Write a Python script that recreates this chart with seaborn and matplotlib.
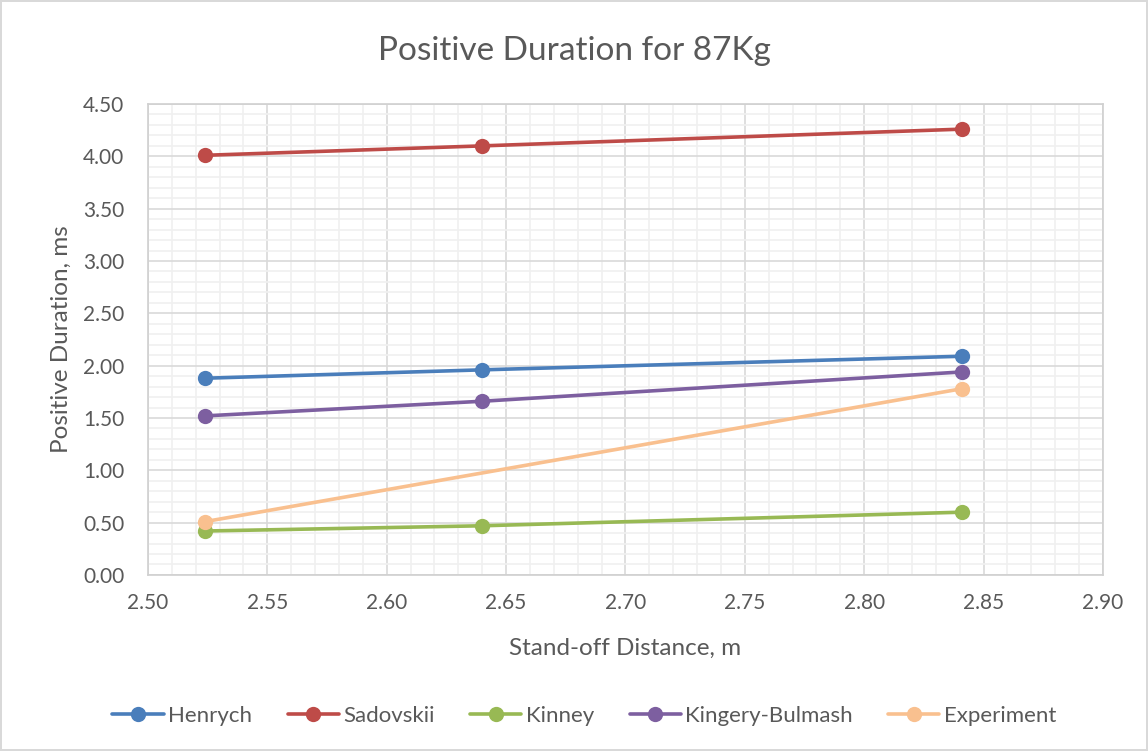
import numpy as np
import pandas as pd
import matplotlib
matplotlib.use("Agg")
import matplotlib.pyplot as plt
from matplotlib.ticker import MultipleLocator, FormatStrFormatter
import seaborn as sns

distance = [2.524, 2.640, 2.841]
henrych = [1.88, 1.96, 2.09]
sadovskii = [4.01, 4.10, 4.26]
kinney = [0.42, 0.47, 0.60]
kingery_bulmash = [1.52, 1.66, 1.94]
experiment = [0.51, np.nan, 1.78]

series_names = ["Henrych", "Sadovskii", "Kinney", "Kingery-Bulmash", "Experiment"]
series_values = [henrych, sadovskii, kinney, kingery_bulmash, experiment]
colors = ["#4a7ebb", "#be4b48", "#98b954", "#7d5fa0", "#f9c08f"]

rows = []
for name, vals in zip(series_names, series_values):
    for x, y in zip(distance, vals):
        rows.append({"x": x, "y": y, "series": name})
df = pd.DataFrame(rows)

sns.set_theme(style="white")
plt.rcParams['font.family'] = ['Lato', 'DejaVu Sans']
text_color = "#595959"

fig = plt.figure(figsize=(11.48, 7.51), dpi=100)
fig.patch.set_edgecolor("#d9d9d9")
fig.patch.set_linewidth(1.5)
ax = fig.add_axes([0.1289, 0.2344, 0.8319, 0.6271])

sns.lineplot(data=df, x="x", y="y", hue="series", hue_order=series_names,
             palette=colors, marker="o", markersize=11, markeredgewidth=0,
             linewidth=2.6, ax=ax, legend=True, sort=False)

ax.set_xlim(2.50, 2.90)
ax.set_ylim(0, 4.5)
ax.xaxis.set_major_locator(MultipleLocator(0.05))
ax.xaxis.set_minor_locator(MultipleLocator(0.01))
ax.yaxis.set_major_locator(MultipleLocator(0.5))
ax.yaxis.set_minor_locator(MultipleLocator(0.1))
ax.xaxis.set_major_formatter(FormatStrFormatter("%.2f"))
ax.yaxis.set_major_formatter(FormatStrFormatter("%.2f"))
ax.grid(True, which="major", color="#d9d9d9", linewidth=1.2)
ax.grid(True, which="minor", color="#f0f0f0", linewidth=1.2)
ax.set_axisbelow(True)
for s in ax.spines.values():
    s.set_color("#d0d0d0")
    s.set_linewidth(1.2)
ax.tick_params(axis="both", which="both", length=0, labelsize=15, colors=text_color)
ax.tick_params(axis="x", pad=13)
ax.tick_params(axis="y", pad=17)

ax.set_xlabel("Stand-off Distance, m", fontsize=17.5, color=text_color, labelpad=18)
ax.set_ylabel("Positive Duration, ms", fontsize=17.5, color=text_color, labelpad=8)
fig.suptitle("Positive Duration for 87Kg", fontsize=24, color=text_color, y=0.952)

handles, labels = ax.get_legend_handles_labels()
ax.legend_.remove()
fig.legend(handles, labels, loc="center", bbox_to_anchor=(0.509, 0.047), ncol=5,
           frameon=False, fontsize=16, labelcolor=text_color, handlelength=2.3,
           handletextpad=0.2, columnspacing=1.6)

fig.savefig("out.png", dpi=100)
